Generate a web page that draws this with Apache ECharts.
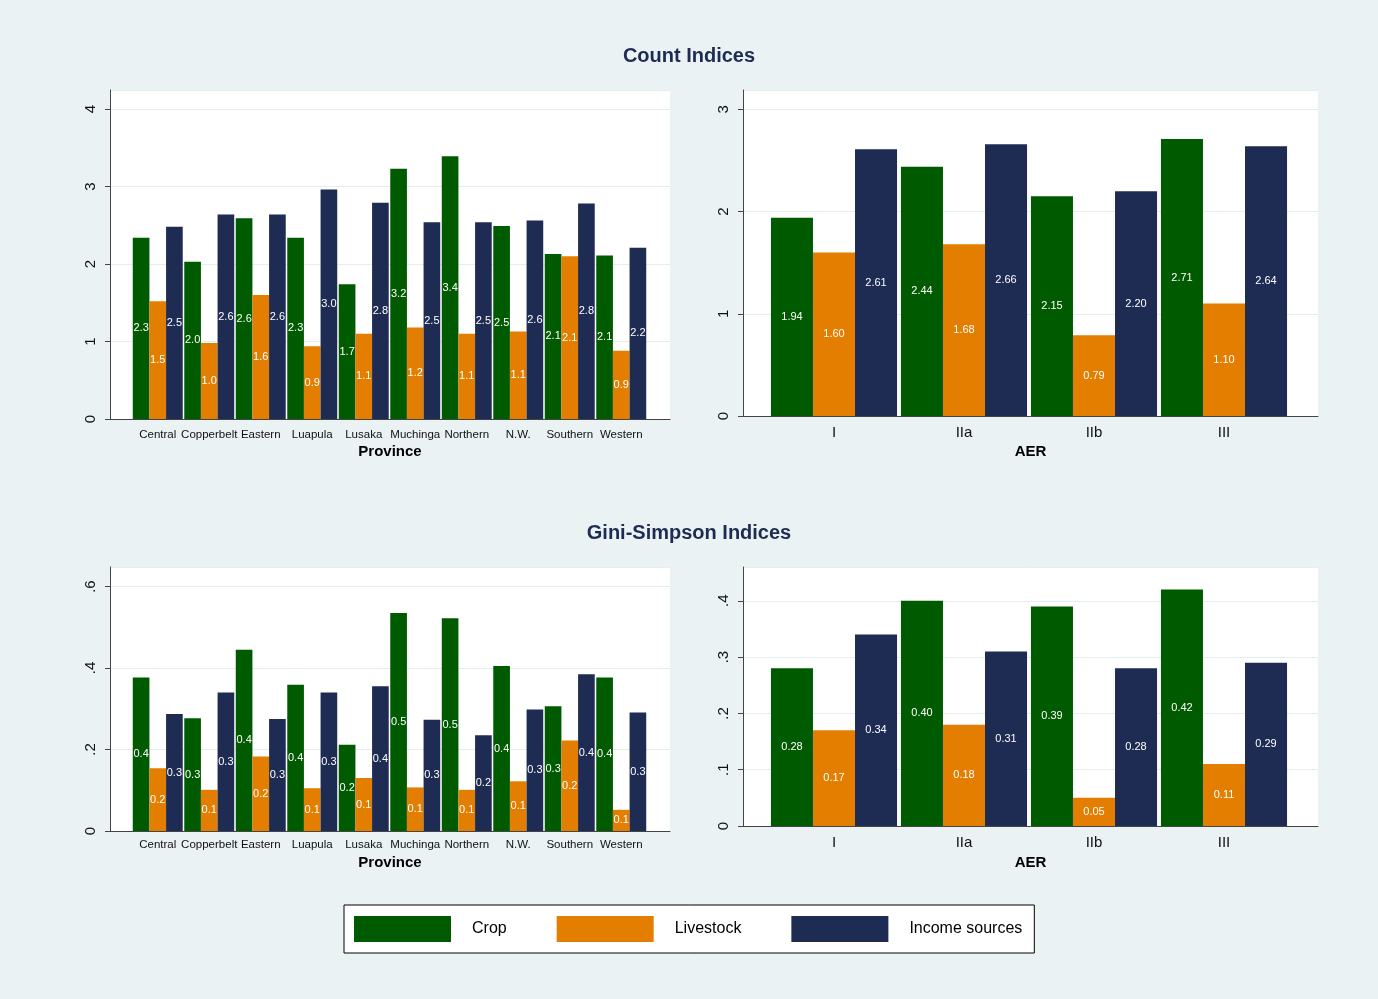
<!DOCTYPE html>
<html>
<head>
<meta charset="utf-8">
<title>Count and Gini-Simpson Indices</title>
<script src="https://cdn.jsdelivr.net/npm/echarts@6/dist/echarts.min.js"></script>
<style>
  body { margin: 0; background: #eaf2f3; }
  #main { width: 1378px; height: 999px; }
</style>
</head>
<body>
<div id="main"></div>
<script>
// categories
const provinces = ['Central', 'Copperbelt', 'Eastern', 'Luapula', 'Lusaka', 'Muchinga', 'Northern', 'N.W.', 'Southern', 'Western'];
const aers = ['I', 'IIa', 'IIb', 'III'];
const seriesNames = ['Crop', 'Livestock', 'Income sources'];

// Count indices by province
const countProvCrop = [2.34, 2.03, 2.59, 2.34, 1.74, 3.23, 3.39, 2.49, 2.13, 2.11];
const countProvLivestock = [1.52, 0.98, 1.60, 0.94, 1.10, 1.18, 1.10, 1.13, 2.10, 0.88];
const countProvIncome = [2.48, 2.64, 2.64, 2.96, 2.79, 2.54, 2.54, 2.56, 2.78, 2.21];

// Count indices by AER
const countAerCrop = [1.94, 2.44, 2.15, 2.71];
const countAerLivestock = [1.60, 1.68, 0.79, 1.10];
const countAerIncome = [2.61, 2.66, 2.20, 2.64];

// Gini-Simpson indices by province
const giniProvCrop = [0.377, 0.277, 0.445, 0.359, 0.212, 0.535, 0.522, 0.405, 0.306, 0.377];
const giniProvLivestock = [0.154, 0.101, 0.183, 0.105, 0.130, 0.107, 0.101, 0.122, 0.222, 0.052];
const giniProvIncome = [0.287, 0.340, 0.275, 0.340, 0.355, 0.273, 0.235, 0.298, 0.385, 0.291];

// Gini-Simpson indices by AER
const giniAerCrop = [0.28, 0.40, 0.39, 0.42];
const giniAerLivestock = [0.17, 0.18, 0.05, 0.11];
const giniAerIncome = [0.34, 0.31, 0.28, 0.29];

const colors = ['#005a00', '#e37e00', '#1e2b52'];
const axisColor = '#444';

// panel layout: bg = white plot region, bars = narrower grid holding the bars
const panels = [
  { bg: { left: 110, top: 90, width: 560, height: 329 }, barsLeft: 132, barsWidth: 515,
    cats: provinces, max: 4.245, interval: 1, name: 'Province', nameGap: 25, catSize: 11.5, catMargin: 10, dec: 1,
    data: [countProvCrop, countProvLivestock, countProvIncome] },
  { bg: { left: 743, top: 90, width: 575, height: 326 }, barsLeft: 769, barsWidth: 520,
    cats: aers, max: 3.19, interval: 1, name: 'AER', nameGap: 28, catSize: 15, catMargin: 9, dec: 2,
    data: [countAerCrop, countAerLivestock, countAerIncome] },
  { bg: { left: 110, top: 567, width: 560, height: 264 }, barsLeft: 132, barsWidth: 515,
    cats: provinces, max: 0.648, interval: 0.2, name: 'Province', nameGap: 24, catSize: 11.5, catMargin: 8, dec: 1,
    data: [giniProvCrop, giniProvLivestock, giniProvIncome] },
  { bg: { left: 743, top: 567, width: 575, height: 259 }, barsLeft: 769, barsWidth: 520,
    cats: aers, max: 0.46, interval: 0.1, name: 'AER', nameGap: 29, catSize: 15, catMargin: 9, dec: 2,
    data: [giniAerCrop, giniAerLivestock, giniAerIncome] }
];

function tickLabel (v, interval) {
  // stata style: integers plain, decimals without leading zero
  if (interval >= 1) {
    return Number.isInteger(v) ? String(v) : '';
  }
  if (v === 0) return '0';
  return String(v).replace(/^0/, '');
}

const grid = [], xAxis = [], yAxis = [], series = [];

panels.forEach(function (p, i) {
  const bgIdx = i * 2;
  const barIdx = i * 2 + 1;
  grid.push({ left: p.bg.left, top: p.bg.top, width: p.bg.width, height: p.bg.height,
    show: true, backgroundColor: '#ffffff', borderWidth: 0 });
  grid.push({ left: p.barsLeft, top: p.bg.top, width: p.barsWidth, height: p.bg.height });

  // background axes: axis lines, y ticks, grid lines, axis title
  xAxis.push({
    type: 'category', gridIndex: bgIdx, data: [''],
    axisLine: { show: true, lineStyle: { color: axisColor, width: 1 } },
    axisTick: { show: false }, axisLabel: { show: false }, splitLine: { show: false },
    name: p.name, nameLocation: 'middle', nameGap: p.nameGap,
    nameTextStyle: { fontSize: 15, fontWeight: 'bold', color: '#000', fontFamily: 'Liberation Sans' }
  });
  yAxis.push({
    type: 'value', gridIndex: bgIdx, min: 0, max: p.max, interval: p.interval,
    axisLine: { show: true, lineStyle: { color: axisColor, width: 1 } },
    axisTick: { show: true, length: 5, lineStyle: { color: axisColor } },
    axisLabel: { rotate: 90, fontSize: 15, color: '#111', margin: 12, showMaxLabel: false,
      fontFamily: 'Liberation Sans',
      formatter: function (v) { return tickLabel(v, p.interval) } },
    splitLine: { show: true, lineStyle: { color: '#e4edf0', width: 1 } }
  });

  // bar axes
  xAxis.push({
    type: 'category', gridIndex: barIdx, data: p.cats,
    axisLine: { show: false }, axisTick: { show: false },
    axisLabel: { interval: 0, fontSize: p.catSize, color: '#111', margin: p.catMargin, fontFamily: 'Liberation Sans' }
  });
  yAxis.push({ type: 'value', gridIndex: barIdx, min: 0, max: p.max, show: false });

  p.data.forEach(function (vals, s) {
    series.push({
      name: seriesNames[s],
      type: 'bar',
      xAxisIndex: barIdx,
      yAxisIndex: barIdx,
      data: vals,
      barGap: '0%',
      barCategoryGap: '3%',
      itemStyle: { color: colors[s] },
      label: {
        show: true, position: 'inside', color: '#fff', fontSize: 11, fontFamily: 'Liberation Sans',
        formatter: function (d) { return d.value.toFixed(p.dec) }
      }
    });
  });
});

let myChart = echarts.init(document.getElementById('main'));
myChart.setOption({
  backgroundColor: '#eaf2f3',
  animation: false,
  title: [
    { text: 'Count Indices', left: 'center', top: 41,
      textStyle: { fontSize: 20, fontWeight: 'bold', color: '#1e2b52', fontFamily: 'Liberation Sans' } },
    { text: 'Gini-Simpson Indices', left: 'center', top: 518,
      textStyle: { fontSize: 20, fontWeight: 'bold', color: '#1e2b52', fontFamily: 'Liberation Sans' } }
  ],
  legend: {
    data: seriesNames,
    left: 344, top: 905,
    icon: 'rect', itemWidth: 97, itemHeight: 26, itemGap: 50,
    padding: [11, 12, 11, 10],
    backgroundColor: '#fff', borderColor: '#000', borderWidth: 1,
    selectedMode: false,
    textStyle: { fontSize: 16, color: '#000', padding: [0, 0, 0, 16], fontFamily: 'Liberation Sans' }
  },
  grid: grid,
  xAxis: xAxis,
  yAxis: yAxis,
  series: series
});
</script>
</body>
</html>
